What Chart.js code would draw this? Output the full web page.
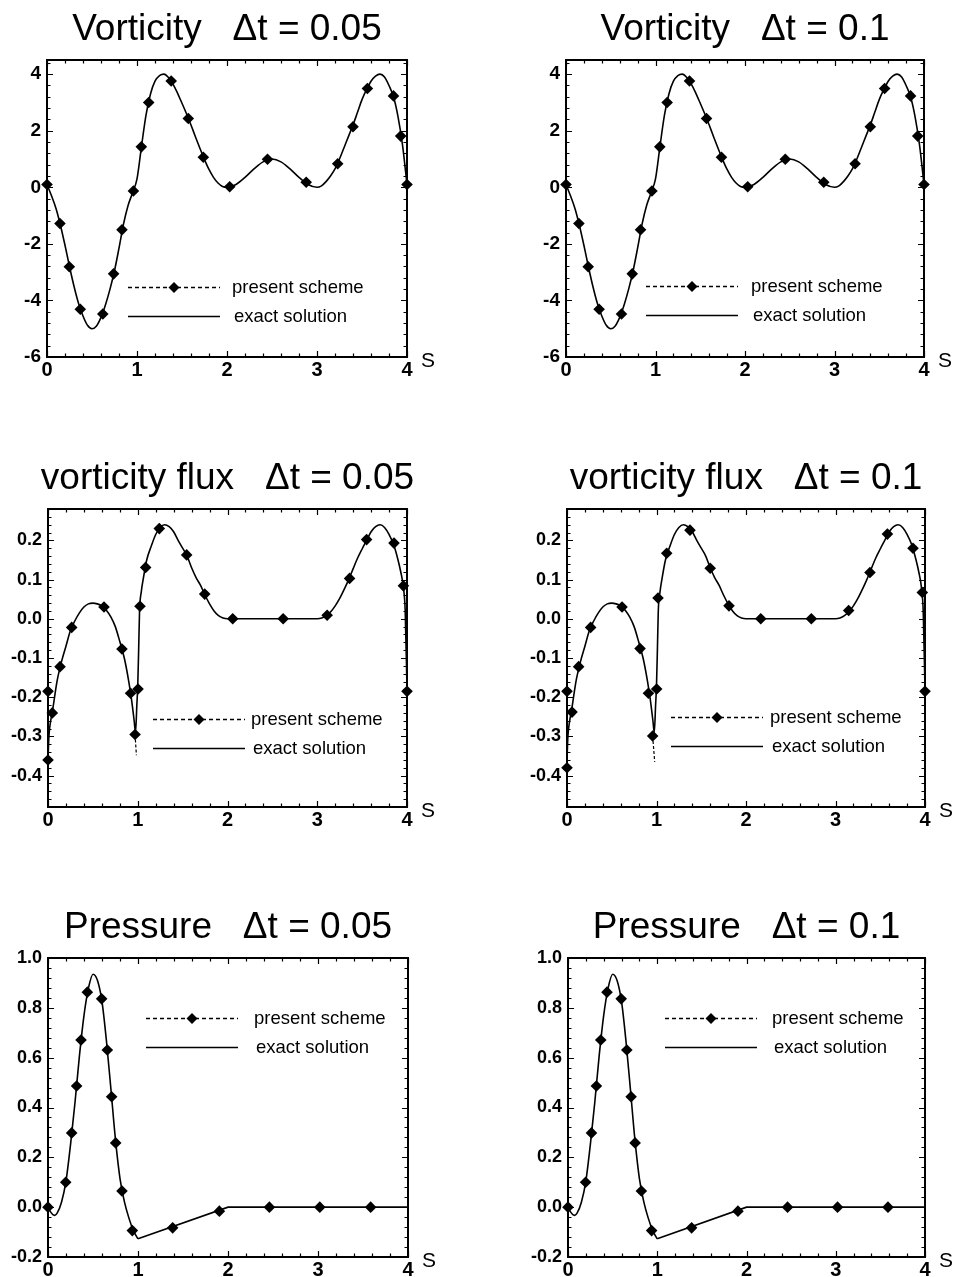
<!DOCTYPE html>
<html>
<head>
<meta charset="utf-8">
<script src="https://cdn.jsdelivr.net/npm/chart.js@4.4.1/dist/chart.umd.min.js"></script>
<style>
  html, body { margin: 0; padding: 0; background: #fff; }
  body { width: 958px; height: 1277px; position: relative; overflow: hidden; }
  canvas { position: absolute; }
</style>
</head>
<body>
<script>
// ---- data ----
const xTicks = [0, 1, 2, 3, 4];
const vortTicks = [-6, -4, -2, 0, 2, 4];
const fluxTicks = [-0.4, -0.3, -0.2, -0.1, 0, 0.1, 0.2];
const presTicks = [-0.2, 0, 0.2, 0.4, 0.6, 0.8, 1.0];

// vorticity, exact solution
const vortExactS = [0,0.05,0.1,0.15,0.2,0.25,0.3,0.35,0.4,0.45,0.5,0.55,0.6,0.65,0.7,0.75,0.8,0.85,0.9,0.95,
  1.0,1.05,1.1,1.15,1.2,1.25,1.3,1.35,1.4,1.45,1.5,1.55,1.6,1.65,1.7,1.75,1.8,1.85,1.9,1.95,2.0,
  2.1,2.2,2.3,2.4,2.5,2.6,2.7,2.8,2.9,3.0,
  3.05,3.1,3.15,3.2,3.25,3.3,3.35,3.4,3.45,3.5,3.55,3.6,3.65,3.7,3.75,3.8,3.85,3.9,3.95,4.0];
const vortExactV = [0.1,-0.3,-0.75,-1.35,-2.05,-2.8,-3.5,-4.1,-4.55,-4.88,-5.0,-4.9,-4.6,-4.15,-3.6,-2.95,-2.15,-1.3,-0.65,-0.2,
  0.3,1.45,2.55,3.3,3.75,3.95,4.0,3.88,3.65,3.33,2.97,2.6,2.2,1.78,1.37,0.98,0.63,0.35,0.15,0.03,0.0,
  0.1,0.35,0.65,0.9,1.0,0.9,0.65,0.35,0.1,0.0,
  0.05,0.2,0.4,0.65,1.0,1.4,1.8,2.2,2.65,3.1,3.45,3.75,3.93,4.0,3.9,3.6,3.2,2.5,1.5,0.1];
// vorticity, present scheme (same markers in both panels)
const vortSchemeS = [0,0.144,0.248,0.37,0.62,0.74,0.833,0.96,1.048,1.13,1.38,1.57,1.737,2.03,2.45,2.88,3.23,3.40,3.56,3.85,3.93,4.0];
const vortSchemeV = [0.1,-1.28,-2.81,-4.31,-4.48,-3.06,-1.5,-0.13,1.43,3.0,3.76,2.43,1.06,0.02,0.99,0.18,0.83,2.14,3.49,3.23,1.81,0.1];

// vorticity flux, exact solution
const fluxExactS = [0,0.01,0.03,0.05,0.1,0.15,0.2,0.25,0.3,0.35,0.4,0.45,0.5,0.55,0.6,0.65,0.7,0.75,0.8,0.85,0.9,
  0.93,0.96,0.975,0.99,1.0,1.01,1.02,1.04,1.06,
  1.1,1.15,1.2,1.25,1.3,1.35,1.4,1.45,1.5,1.55,1.6,1.65,1.7,1.75,1.8,1.85,1.9,1.95,2.0,2.5,3.0,
  3.05,3.1,3.15,3.2,3.25,3.3,3.35,3.4,3.45,3.5,3.55,3.6,3.65,3.7,3.75,3.8,3.85,3.9,3.93,3.96,3.98,4.0];
const fluxExactV = [-0.36,-0.3,-0.26,-0.235,-0.16,-0.11,-0.07,-0.03,-0.005,0.015,0.03,0.038,0.04,0.038,0.033,0.022,0.005,-0.02,-0.058,-0.1,-0.16,
  -0.205,-0.26,-0.29,-0.22,-0.17,-0.08,0.02,0.07,0.1,
  0.15,0.185,0.215,0.233,0.24,0.235,0.222,0.2,0.18,0.16,0.13,0.105,0.085,0.06,0.038,0.02,0.008,0.002,0,0,0,
  0.002,0.008,0.018,0.033,0.052,0.075,0.1,0.128,0.155,0.178,0.2,0.222,0.235,0.24,0.233,0.215,0.19,0.15,0.12,0.08,0.02,-0.18];
// vorticity flux, present scheme dt = 0.05
const flux05S = [0,0,0.048,0.134,0.264,0.624,0.824,0.92,0.97,1.003,1.025,1.088,1.24,1.545,1.746,2.058,2.62,3.11,3.36,3.55,3.855,3.96,4.0];
const flux05V = [-0.185,-0.36,-0.24,-0.122,-0.022,0.03,-0.077,-0.19,-0.295,-0.179,0.032,0.131,0.23,0.163,0.063,0,0,0.009,0.103,0.202,0.193,0.084,-0.185];
const flux05DipS = [0.97, 0.985];
const flux05DipV = [-0.295, -0.348];
// vorticity flux, present scheme dt = 0.1
const flux10S = [0,0,0.056,0.13,0.264,0.615,0.816,0.91,0.957,1.002,1.017,1.114,1.374,1.60,1.81,2.165,2.73,3.147,3.385,3.58,3.866,3.97,4.0];
const flux10V = [-0.185,-0.38,-0.238,-0.122,-0.022,0.03,-0.076,-0.19,-0.299,-0.179,0.053,0.167,0.226,0.129,0.033,0,0,0.021,0.118,0.216,0.18,0.067,-0.185];
const flux10DipS = [0.957, 0.98];
const flux10DipV = [-0.299, -0.365];

// pressure, exact solution (smooth part, then straight part)
const presExactS = [0,0.03,0.07,0.1,0.15,0.2,0.25,0.3,0.35,0.4,0.45,0.5,0.55,0.6,0.65,0.7,0.75,0.8,0.85,0.9,0.95,1.0];
const presExactV = [0,-0.02,-0.033,-0.025,0.02,0.105,0.25,0.42,0.61,0.77,0.88,0.935,0.91,0.825,0.665,0.47,0.27,0.115,0.02,-0.045,-0.095,-0.127];
const presLineS = [1.0, 2.0, 4.0];
const presLineV = [-0.127, 0, 0];
// pressure, present scheme (same markers in both panels)
const presSchemeS = [0,0.197,0.263,0.318,0.367,0.437,0.596,0.659,0.707,0.752,0.822,0.937,1.385,1.904,2.46,3.02,3.585];
const presSchemeV = [0,0.1,0.298,0.486,0.671,0.863,0.836,0.631,0.443,0.258,0.065,-0.094,-0.083,-0.016,0,0,0];

// ---- layout ----
const PAD_L = 47, PAD_T = 60, PAD_R = 45, PAD_B = 30;
const FONT = '"Liberation Sans", Arial, Helvetica, sans-serif';

const pts = (xs, ys) => xs.map((x, i) => ({ x: x, y: ys[i] }));

const panels = [
  { left: 47, top: 60, right: 407, bottom: 357, title: 'Vorticity   \u0394t = 0.05',
    yMin: -6, yMax: 4.5, yTicks: vortTicks, yMinor: 0.4, yDigits: 0, yFont: 19,
    exact: [[vortExactS, vortExactV]], scheme: [vortSchemeS, vortSchemeV], dip: null,
    leg: { dx: 81, dy: 227, gap: 12 } },
  { left: 566, top: 60, right: 924, bottom: 357, title: 'Vorticity   \u0394t = 0.1',
    yMin: -6, yMax: 4.5, yTicks: vortTicks, yMinor: 0.4, yDigits: 0, yFont: 19,
    exact: [[vortExactS, vortExactV]], scheme: [vortSchemeS, vortSchemeV], dip: null,
    leg: { dx: 80, dy: 226, gap: 13 } },
  { left: 48, top: 509, right: 407, bottom: 807, title: 'vorticity flux   \u0394t = 0.05',
    yMin: -0.48, yMax: 0.28, yTicks: fluxTicks, yMinor: 0.02, yDigits: 1, yFont: 18,
    exact: [[fluxExactS, fluxExactV]], scheme: [flux05S, flux05V], dip: [flux05DipS, flux05DipV],
    leg: { dx: 105, dy: 210, gap: 6 } },
  { left: 567, top: 509, right: 925, bottom: 807, title: 'vorticity flux   \u0394t = 0.1',
    yMin: -0.48, yMax: 0.28, yTicks: fluxTicks, yMinor: 0.02, yDigits: 1, yFont: 18,
    exact: [[fluxExactS, fluxExactV]], scheme: [flux10S, flux10V], dip: [flux10DipS, flux10DipV],
    leg: { dx: 104, dy: 208, gap: 7 } },
  { left: 48, top: 958, right: 408, bottom: 1257, title: 'Pressure   \u0394t = 0.05',
    yMin: -0.2, yMax: 1.0, yTicks: presTicks, yMinor: 0.04, yDigits: 1, yFont: 18,
    exact: [[presExactS, presExactV], [presLineS, presLineV]], scheme: [presSchemeS, presSchemeV], dip: null,
    leg: { dx: 98, dy: 60, gap: 16 } },
  { left: 568, top: 958, right: 925, bottom: 1257, title: 'Pressure   \u0394t = 0.1',
    yMin: -0.2, yMax: 1.0, yTicks: presTicks, yMinor: 0.04, yDigits: 1, yFont: 18,
    exact: [[presExactS, presExactV], [presLineS, presLineV]], scheme: [presSchemeS, presSchemeV], dip: null,
    leg: { dx: 97, dy: 60, gap: 15 } }
];

function diamond(ctx, cx, cy, r) {
  ctx.beginPath();
  ctx.moveTo(cx, cy - r); ctx.lineTo(cx + r, cy); ctx.lineTo(cx, cy + r); ctx.lineTo(cx - r, cy);
  ctx.closePath(); ctx.fill();
}

// frame, inward ticks on four sides, title, S label, legend
const decor = {
  id: 'decor',
  afterDatasetsDraw(chart) {
    const p = chart.config.options.panel;
    const { ctx, chartArea: a } = chart;
    const xs = chart.scales.x, ys = chart.scales.y;
    ctx.save();
    ctx.strokeStyle = '#000';
    ctx.fillStyle = '#000';

    // ticks
    ctx.lineWidth = 1.2;
    const isMajor = (v, majors) => majors.some(m => Math.abs(m - v) < 1e-6);
    ctx.beginPath();
    for (let i = 0; i <= 20; i++) {
      const v = i * 0.2;
      const px = Math.round(xs.getPixelForValue(v)) + 0.5;
      const len = isMajor(v, xTicks) ? 6 : 3.5;
      ctx.moveTo(px, a.bottom); ctx.lineTo(px, a.bottom - len);
      ctx.moveTo(px, a.top); ctx.lineTo(px, a.top + len);
    }
    let v0 = p.yTicks[0];
    while (v0 - p.yMinor >= p.yMin - 1e-9) v0 -= p.yMinor;
    for (let i = 0; v0 + i * p.yMinor <= p.yMax + 1e-9; i++) {
      const v = v0 + i * p.yMinor;
      const py = Math.round(ys.getPixelForValue(v)) + 0.5;
      const len = isMajor(v, p.yTicks) ? 6 : 3.5;
      ctx.moveTo(a.left, py); ctx.lineTo(a.left + len, py);
      ctx.moveTo(a.right, py); ctx.lineTo(a.right - len, py);
    }
    ctx.stroke();

    // frame
    ctx.lineWidth = 2;
    ctx.strokeRect(a.left, a.top, a.right - a.left, a.bottom - a.top);

    // title
    ctx.font = '37px ' + FONT;
    ctx.textAlign = 'center';
    ctx.textBaseline = 'alphabetic';
    ctx.fillText(p.title, (a.left + a.right) / 2, a.top - 20);

    // axis name
    ctx.font = '21px ' + FONT;
    ctx.textBaseline = 'middle';
    ctx.fillText('S', a.right + 21, a.bottom + 4);

    // legend
    const lx = Math.round(a.left + p.leg.dx), ly = Math.round(a.top + p.leg.dy) + 0.5, lw = 92;
    ctx.lineWidth = 1.3;
    ctx.setLineDash([4, 3]);
    ctx.beginPath(); ctx.moveTo(lx, ly); ctx.lineTo(lx + lw, ly); ctx.stroke();
    ctx.setLineDash([]);
    diamond(ctx, lx + lw / 2, ly, 5.5);
    ctx.lineWidth = 1.5;
    ctx.beginPath(); ctx.moveTo(lx, ly + 29); ctx.lineTo(lx + lw, ly + 29); ctx.stroke();
    ctx.font = '18.5px ' + FONT;
    ctx.textAlign = 'left';
    ctx.textBaseline = 'alphabetic';
    ctx.fillText('present scheme', lx + lw + p.leg.gap, ly + 5);
    ctx.fillText('exact solution', lx + lw + p.leg.gap + 2, ly + 34);
    ctx.restore();
  }
};

panels.forEach(p => {
  const W = (p.right - p.left) + PAD_L + PAD_R;
  const H = (p.bottom - p.top) + PAD_T + PAD_B;
  const cv = document.createElement('canvas');
  cv.width = W; cv.height = H;
  cv.style.left = (p.left - PAD_L) + 'px';
  cv.style.top = (p.top - PAD_T) + 'px';
  cv.style.width = W + 'px';
  cv.style.height = H + 'px';
  document.body.appendChild(cv);

  const datasets = [{
    label: 'present scheme',
    data: pts(p.scheme[0], p.scheme[1]),
    showLine: false,
    pointStyle: 'rectRot',
    pointRadius: 5.8,
    backgroundColor: '#000',
    borderColor: '#000',
    borderWidth: 0,
    clip: false
  }];
  if (p.dip) {
    datasets.push({
      label: 'present scheme (line)',
      data: pts(p.dip[0], p.dip[1]),
      showLine: true,
      borderColor: '#000',
      borderWidth: 1.2,
      borderDash: [3, 2],
      pointRadius: 0
    });
  }
  p.exact.forEach((e, k) => {
    datasets.push({
      label: 'exact solution',
      data: pts(e[0], e[1]),
      showLine: true,
      borderColor: '#000',
      borderWidth: 1.6,
      pointRadius: 0,
      cubicInterpolationMode: k === 0 ? 'monotone' : 'default',
      tension: 0,
      clip: false
    });
  });

  new Chart(cv, {
    type: 'scatter',
    data: { datasets },
    options: {
      panel: p,
      responsive: false,
      animation: false,
      devicePixelRatio: 1,
      events: [],
      layout: { padding: { left: 0, top: PAD_T, right: PAD_R, bottom: 0 } },
      plugins: { legend: { display: false }, tooltip: { enabled: false } },
      scales: {
        x: {
          type: 'linear', min: 0, max: 4,
          afterFit(s) { s.height = PAD_B; },
          afterBuildTicks(s) { s.ticks = xTicks.map(v => ({ value: v })); },
          grid: { display: false, drawTicks: false },
          border: { display: false },
          ticks: { padding: 1, color: '#000', autoSkip: false, maxRotation: 0,
                   font: { family: FONT, weight: 'bold', size: 20 },
                   callback: v => String(v) }
        },
        y: {
          type: 'linear', min: p.yMin, max: p.yMax,
          afterFit(s) { s.width = PAD_L; },
          afterBuildTicks(s) { s.ticks = p.yTicks.map(v => ({ value: v })); },
          grid: { display: false, drawTicks: false },
          border: { display: false },
          ticks: { padding: 6, color: '#000', autoSkip: false,
                   font: { family: FONT, weight: 'bold', size: p.yFont },
                   callback: v => Number(v).toFixed(p.yDigits) }
        }
      }
    },
    plugins: [decor]
  });
});
</script>
</body>
</html>
